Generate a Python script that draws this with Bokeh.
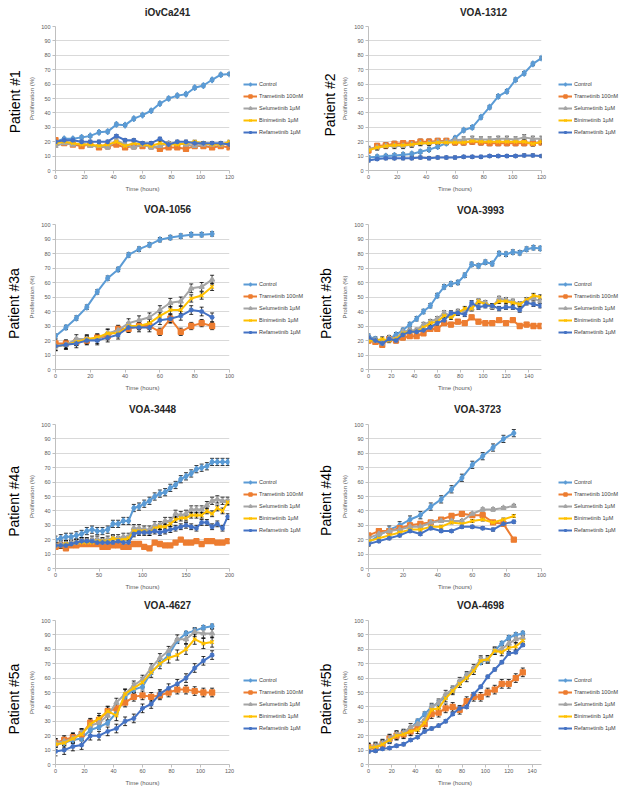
import math
from bokeh.plotting import figure
from bokeh.layouts import column, row
from bokeh.models import (Legend, LegendItem, Whisker, ColumnDataSource,
                          TeeHead, Range1d, FixedTicker)
from bokeh.core.properties import value
from bokeh.embed import file_html
from bokeh.resources import INLINE

SERIES = ["Control", "Trametinib 100nM", "Selumetinib 1µM", "Binimetinib 1µM", "Refametinib 1µM"]
COLORS = ["#5B9BD5", "#ED7D31", "#A5A5A5", "#FFC000", "#4472C4"]
MARKERS = ["diamond", "square", "triangle", "x", "asterisk"]

TITLES = ["iOvCa241", "VOA-1312", "VOA-1056", "VOA-3993", "VOA-3448", "VOA-3723", "VOA-4627", "VOA-4698"]
PATIENTS = ["Patient #1", "Patient #2", "Patient #3a", "Patient #3b", "Patient #4a", "Patient #4b", "Patient #5a", "Patient #5b"]

# ---- Panel 1: iOvCa241
T1 = [0, 6, 12, 18, 24, 30, 36, 42, 48, 54, 60, 66, 72, 78, 84, 90, 96, 102, 108, 114, 120]
P1_CONTROL = [20, 22, 22, 23, 24, 26.5, 27, 32, 31.5, 36, 38.5, 41.5, 46.5, 50, 52, 53, 57.5, 59, 63, 66.5, 67]
P1_TRAM = [21, 19, 18, 17, 18, 16, 17, 18, 16, 17, 17, 17, 15, 16, 16, 15, 17, 17, 16, 17, 16]
P1_SELU = [17, 19, 18, 19, 17, 17, 16, 21, 18, 16, 18, 16, 17, 19, 19, 18, 17, 18, 18, 18, 19]
P1_BINI = [19, 20, 19, 18, 18, 17, 18, 20, 17, 19, 18, 17, 19, 18, 18, 19, 20, 19, 18, 18, 20]
P1_REFA = [20, 21, 21, 20, 20, 20, 20, 24, 21, 21, 19, 19, 22, 18, 20, 20, 19, 19, 19, 19, 18]
P1_ERR = [1, 1, 1, 1, 1]

# ---- Panel 2: VOA-1312
T2 = [0, 6, 12, 18, 24, 30, 36, 42, 48, 54, 60, 66, 72, 78, 84, 90, 96, 102, 108, 114, 120]
P2_CONTROL = [9, 9.5, 10, 10.5, 11, 11.5, 13, 14.5, 16.5, 19, 22.5, 28, 30, 37, 44, 51.5, 55, 63, 67.5, 74, 78]
P2_TRAM = [14, 17, 17.5, 18.5, 19, 19, 20, 20, 20.5, 20.5, 19.5, 19.5, 20, 19.5, 19, 19, 19, 19, 19, 19, 19.5]
P2_SELU = [15, 16, 17, 17, 17, 18, 19, 19, 20, 20, 21, 21.5, 22, 21.5, 21.5, 22, 22, 21.5, 23, 22, 22]
P2_BINI = [14, 16, 17, 17.5, 17.5, 18, 19, 19, 19.5, 19.5, 19.5, 19.5, 20.5, 20, 20, 20, 20, 20, 20, 18.5, 20]
P2_REFA = [7, 8, 8.5, 8.5, 8.5, 8.5, 9, 8.5, 9, 9, 9, 9.5, 9.5, 9.5, 10, 10, 10, 10, 10.5, 10.5, 10]
P2_ERR = [1.2, 1.8, 1.8, 1.5, 1]

# ---- Panel 3: VOA-1056
T3 = [0, 6, 12, 18, 24, 30, 36, 42, 48, 54, 60, 66, 72, 78, 84, 90]
P3_CONTROL = [23, 29, 35.5, 43, 53.5, 63, 69, 79, 83, 86, 89.5, 91, 92, 93, 93, 93.5]
P3_TRAM = [18, 18, 19, 20, 22, 23, 28, 28, 30, 30, 26, 35, 26, 30, 32, 30]
P3_SELU = [16, 17, 21, 21, 21, 25, 27, 32, 34, 36, 41, 46, 47, 56, 57, 62]
P3_BINI = [16, 17, 19, 21, 22, 25, 25, 30, 30, 32, 37, 41, 41, 49, 51, 57]
P3_REFA = [16, 17, 18, 20, 20, 22, 24, 29, 29, 29, 34, 35, 37, 41, 40, 36]
P3_ERR = [1.5, 2.5, 3, 2.5, 3]

# ---- Panel 4: VOA-3993
T4 = [0, 6, 12, 18, 24, 30, 36, 42, 48, 54, 60, 66, 72, 78, 84, 90, 96, 102, 108, 114, 120, 126, 132, 138, 144, 150]
P4_CONTROL = [23, 21, 18, 21, 24, 27, 31, 35, 40, 44, 51, 57, 59, 60, 65, 72.5, 71.5, 74, 73, 80, 79.5, 81, 80.5, 83, 84, 83.5]
P4_TRAM = [20, 19, 17, 21, 20, 22, 23, 23, 25, 28, 28, 32, 31, 33, 32, 36, 33, 32, 32, 34, 32, 34, 30, 31, 30, 30]
P4_SELU = [22, 20, 18, 22, 21, 26, 27, 27, 31, 33, 35, 39, 37, 40, 40, 42, 47, 46, 43, 49, 48, 47, 45, 48, 49, 47]
P4_BINI = [20, 20, 21, 20, 21, 25, 26, 26, 29, 32, 33, 37, 36, 39, 42, 42, 47, 45, 44, 47, 47, 46, 45, 48, 51, 50]
P4_REFA = [22, 20, 18, 21, 20, 24, 26, 26, 27, 29, 32, 34, 39, 39, 38, 46, 43, 44, 44, 42, 43, 43, 41, 46, 45, 44]
P4_ERR = [1.5, 1.5, 1.5, 1.5, 1.5]

# ---- Panel 5: VOA-3448
T5 = [0, 6, 12, 18, 24, 30, 36, 42, 48, 54, 60, 66, 72, 78, 84, 90, 96, 102, 108, 114,
      120, 126, 132, 138, 144, 150, 156, 162, 168, 174, 180, 186, 192, 198]
P5_CONTROL = [20, 21, 22, 22, 23, 24, 26, 27, 26, 26, 27, 31, 31, 33, 33, 42, 43, 45, 47, 50,
              52, 53, 56, 58, 62, 64, 66, 69, 70, 71, 74, 74, 74, 74]
P5_TRAM = [15, 16, 14, 16, 16, 17, 17, 17, 17, 15, 15, 16, 16, 15, 15, 17, 17, 15, 14, 18,
           17, 16, 16, 18, 20, 18, 18, 19, 17, 19, 19, 18, 18, 19]
P5_SELU = [16, 17, 17, 18, 18, 19, 19, 20, 20, 19, 20, 21, 21, 22, 22, 28, 28, 27, 27, 30,
           30, 33, 33, 38, 37, 38, 41, 41, 41, 44, 47, 48, 47, 47]
P5_BINI = [16, 16, 17, 17, 18, 18, 18, 18, 19, 19, 19, 21, 20, 20, 21, 26, 26, 26, 25, 28,
           29, 29, 31, 34, 35, 35, 37, 37, 37, 40, 38, 42, 40, 46]
P5_REFA = [16, 16, 16, 17, 18, 19, 19, 19, 18, 18, 18, 18, 19, 18, 18, 24, 25, 25, 25, 26,
           25, 26, 27, 28, 29, 30, 29, 28, 32, 32, 29, 31, 28, 36]
P5_ERR = [2.5, 1.2, 2.5, 2, 2]

# ---- Panel 6: VOA-3723
T6 = [0, 6, 12, 18, 24, 30, 36, 42, 48, 54, 60, 66, 72, 78, 84]
P6_CONTROL = [18, 23, 27, 30, 34, 37, 43, 48, 55, 63, 72, 78, 84, 90, 94]
P6_TRAM = [23, 26, 26, 28, 30, 31, 32, 34, 36.5, 38, 37, 37, 32, 31, 20]
P6_SELU = [21, 24, 26, 27, 29, 29, 32, 33, 33, 33, 38, 41, 41, 42, 43.5]
P6_BINI = [19, 21, 23, 25, 27, 27, 29, 29, 32, 31, 33, 34, 32, 34, 36.5]
P6_REFA = [17, 19, 21, 23, 26, 24, 28, 26, 26, 29, 29, 28, 27, 31, 32.5]
P6_ERR = [2.5, 1, 1, 1, 1]

# ---- Panel 7: VOA-4627
T7 = [0, 6, 12, 18, 24, 30, 36, 42, 48, 54, 60, 66, 72, 78, 84, 90, 96, 102, 108]
P7_CONTROL = [14, 15, 17, 18, 24, 26, 29, 36, 47, 52, 54, 64, 70, 76, 86, 91, 93, 95, 96]
P7_TRAM = [15, 17, 19, 21, 29, 31, 37, 39, 43, 47, 48, 47, 48, 50, 52, 52, 51, 50, 50]
P7_SELU = [15, 16, 18, 22, 27, 29, 34, 43, 49, 55, 59, 67, 74, 79, 87, 87, 92, 91, 91]
P7_BINI = [14, 15, 18, 21, 28, 32, 37, 34, 49, 53, 57, 64, 70, 74, 76, 80, 87, 84, 85]
P7_REFA = [9, 10, 12.5, 13.5, 20, 20, 23, 25, 30, 32, 39, 42, 49, 53, 56, 60, 67, 72, 76]
P7_ERR = [1.5, 3, 3, 3.5, 3]

# ---- Panel 8: VOA-4698
T8 = [0, 6, 12, 18, 24, 30, 36, 42, 48, 54, 60, 66, 72, 78, 84, 90, 96, 102, 108, 114, 120, 126, 132]
P8_CONTROL = [11, 12, 14, 17, 20, 22, 25, 30, 35, 40, 43, 47, 52, 57, 62, 66, 71, 73, 79, 84, 88, 90, 91]
P8_TRAM = [12, 12, 14, 18, 20, 21, 23, 26, 28, 35, 36, 39, 40, 38, 44, 47, 47, 50, 52, 56, 56, 60, 64]
P8_SELU = [12, 13, 15, 18, 21, 22, 26, 28, 31, 40, 43, 49, 52, 58, 62, 67, 73, 73, 79, 80, 84, 87, 88]
P8_BINI = [12, 12, 14, 17, 20, 21, 23, 24, 29, 38, 39, 46, 51, 56, 60, 65, 72, 73, 79, 78, 81, 82, 86]
P8_REFA = [9, 9.5, 11, 11.5, 13, 14, 17, 19, 23, 25, 27, 30, 35, 39, 40, 49, 54, 61, 66, 71, 77, 78, 83]
P8_ERR = [1.5, 3, 2.5, 2.5, 1]

X_MAX = [120, 120, 100, 151, 200, 100, 120, 148]
X_TICKS = [[0, 20, 40, 60, 80, 100, 120], [0, 20, 40, 60, 80, 100, 120],
           [0, 20, 40, 60, 80, 100], [0, 20, 40, 60, 80, 100, 120, 140],
           [0, 50, 100, 150, 200], [0, 20, 40, 60, 80, 100],
           [0, 20, 40, 60, 80, 100, 120], [0, 20, 40, 60, 80, 100, 120, 140]]
Y_TICKS = [0, 10, 20, 30, 40, 50, 60, 70, 80, 90, 100]

PANELS = [
    (T1, [P1_CONTROL, P1_TRAM, P1_SELU, P1_BINI, P1_REFA], P1_ERR),
    (T2, [P2_CONTROL, P2_TRAM, P2_SELU, P2_BINI, P2_REFA], P2_ERR),
    (T3, [P3_CONTROL, P3_TRAM, P3_SELU, P3_BINI, P3_REFA], P3_ERR),
    (T4, [P4_CONTROL, P4_TRAM, P4_SELU, P4_BINI, P4_REFA], P4_ERR),
    (T5, [P5_CONTROL, P5_TRAM, P5_SELU, P5_BINI, P5_REFA], P5_ERR),
    (T6, [P6_CONTROL, P6_TRAM, P6_SELU, P6_BINI, P6_REFA], P6_ERR),
    (T7, [P7_CONTROL, P7_TRAM, P7_SELU, P7_BINI, P7_REFA], P7_ERR),
    (T8, [P8_CONTROL, P8_TRAM, P8_SELU, P8_BINI, P8_REFA], P8_ERR),
]

# ---- layout (page pixel coordinates; the page has no margin)
TOTAL_W = 625
COL_X = [0, 313]
PAT_W = 23                       # width of the strip holding "Patient #.."
CHART_W = [212, 211]             # chart figure widths
LEG_W = 78                       # legend strip width
FRAME_L = [55, 368]
FRAME_R = [229, 541]
ROW_Y = [0, 198, 396, 596]
ROW_H = [198, 198, 200, 194]
TS_H = [20, 20, 22, 18]          # title strip heights
FRAME_T = [26, 224, 424, 620]
FRAME_B = [170, 369, 568, 764]
TITLE_POS = [(167, 12), (483, 12), (167, 209), (480, 210), (152, 409), (477, 409), (167, 605), (480, 605)]
PAT_POS = [(14, 103), (329, 107), (13, 305), (325, 305), (13, 503), (325, 502), (13, 700), (325, 700)]
PAT_DY = 10                      # correction measured from the rendered output
LEG_X = [243, 558]
LEG_BOTTOM = 6                   # legend anchor above the frame bottom (tuned from rendering)

FONT = "Liberation Sans"


def blank_fig(w, h, flip=True):
    f = figure(width=w, height=h, output_backend="svg", toolbar_location=None,
               x_range=Range1d(0, w), y_range=Range1d(h, 0) if flip else Range1d(0, h),
               x_axis_type=None, y_axis_type=None, title=None,
               min_border=0, min_border_left=0, min_border_right=0,
               min_border_top=0, min_border_bottom=0)
    f.outline_line_color = None
    return f


def title_strip(r):
    h = TS_H[r]
    f = blank_fig(TOTAL_W, h)
    xs, ys, ts = [], [], []
    for c in range(2):
        i = 2 * r + c
        xs.append(TITLE_POS[i][0])
        ys.append(TITLE_POS[i][1] - ROW_Y[r])
        ts.append(TITLES[i])
    f.text(x=xs, y=ys, text=ts, text_align="center", text_baseline="middle",
           text_font=value(FONT), text_font_size="10px", text_font_style="bold",
           text_color="#262626")
    return f


def patient_fig(r, c):
    i = 2 * r + c
    top = ROW_Y[r] + TS_H[r]
    h = ROW_H[r] - TS_H[r]
    f = blank_fig(PAT_W, h)
    px, py = PAT_POS[i]
    f.text(x=[px - COL_X[c]], y=[py + PAT_DY - top], text=[PATIENTS[i]], angle=math.pi / 2,
           text_align="center", text_baseline="middle",
           text_font=value(FONT), text_font_size="14px", text_color="#000000")
    return f


def legend_fig(r, c):
    h = ROW_H[r] - TS_H[r]
    top = ROW_Y[r] + TS_H[r]
    x0 = COL_X[c] + PAT_W + CHART_W[c]
    f = blank_fig(LEG_W, h, flip=False)
    items = []
    for k in range(5):
        # one undrawn (NaN) point so that the legend has a row to style its sample from
        src = ColumnDataSource(dict(x=[float("nan")], y=[float("nan")]))
        lr = f.line("x", "y", source=src, line_color=COLORS[k], line_width=2)
        sz = 5 if MARKERS[k] != "diamond" else 6
        sr = f.scatter("x", "y", source=src, marker=MARKERS[k], size=sz,
                       fill_color=COLORS[k], line_color=COLORS[k], line_width=1.3)
        items.append(LegendItem(label=SERIES[k], renderers=[lr, sr]))
    bottom_px = (top + h) - (FRAME_B[r] - LEG_BOTTOM)
    leg = Legend(items=items, location=(LEG_X[c] - x0, bottom_px),
                 glyph_width=14, glyph_height=8, label_height=8, label_width=10,
                 spacing=4, padding=0, margin=0, label_standoff=2,
                 label_text_font=FONT, label_text_font_size="5.5px",
                 label_text_color="#404040",
                 background_fill_alpha=0, border_line_alpha=0)
    f.add_layout(leg)
    return f


def chart(i):
    r, c = divmod(i, 2)
    t, ys, errs = PANELS[i]
    x0 = COL_X[c] + PAT_W
    w = CHART_W[c]
    top = ROW_Y[r] + TS_H[r]
    h = ROW_H[r] - TS_H[r]
    p = figure(width=w, height=h, output_backend="svg", toolbar_location=None,
               x_range=Range1d(0, X_MAX[i]), y_range=Range1d(0, 100),
               min_border_left=FRAME_L[c] - x0,
               min_border_right=x0 + w - FRAME_R[c],
               min_border_top=FRAME_T[r] - top,
               min_border_bottom=top + h - FRAME_B[r])
    p.outline_line_color = None
    p.xgrid.visible = False
    p.ygrid.grid_line_color = "#D9D9D9"
    p.ygrid.grid_line_width = 1
    p.xaxis.ticker = FixedTicker(ticks=X_TICKS[i])
    p.yaxis.ticker = FixedTicker(ticks=Y_TICKS)
    for ax in (p.xaxis[0], p.yaxis[0]):
        ax.axis_line_color = "#BFBFBF"
        ax.major_tick_line_color = "#BFBFBF"
        ax.major_tick_out = 3
        ax.major_tick_in = 0
        ax.minor_tick_line_color = None
        ax.major_label_text_font = FONT
        ax.major_label_text_font_size = "5.5px"
        ax.major_label_text_color = "#595959"
        ax.axis_label_text_font = FONT
        ax.axis_label_text_font_size = "6px"
        ax.axis_label_text_font_style = "normal"
        ax.axis_label_text_color = "#595959"
    p.xaxis.major_label_standoff = 1
    p.xaxis.axis_label_standoff = 4
    p.yaxis.major_label_standoff = 2
    p.yaxis.axis_label_standoff = 3
    p.xaxis.axis_label = "Time (hours)"
    p.yaxis.axis_label = "Proliferation (%)"

    for k in range(5):
        vals = ys[k]
        e = errs[k]
        src = ColumnDataSource(dict(x=t, y=vals,
                                    upper=[v + e for v in vals],
                                    lower=[v - e for v in vals]))
        wh = Whisker(source=src, base="x", upper="upper", lower="lower",
                     line_color="#000000", line_width=0.8,
                     upper_head=TeeHead(size=4, line_color="#000000", line_width=0.8),
                     lower_head=TeeHead(size=4, line_color="#000000", line_width=0.8))
        p.add_layout(wh)
        p.line("x", "y", source=src, line_color=COLORS[k], line_width=2)
        sz = 5 if MARKERS[k] != "diamond" else 6
        p.scatter("x", "y", source=src, marker=MARKERS[k], size=sz,
                  fill_color=COLORS[k], line_color=COLORS[k], line_width=1.3)
    return p


rows = []
for r in range(4):
    rows.append(title_strip(r))
    rows.append(row(patient_fig(r, 0), chart(2 * r), legend_fig(r, 0),
                    patient_fig(r, 1), chart(2 * r + 1), legend_fig(r, 1)))
layout = column(*rows)

open("out.html", "w").write(file_html(layout, INLINE))
